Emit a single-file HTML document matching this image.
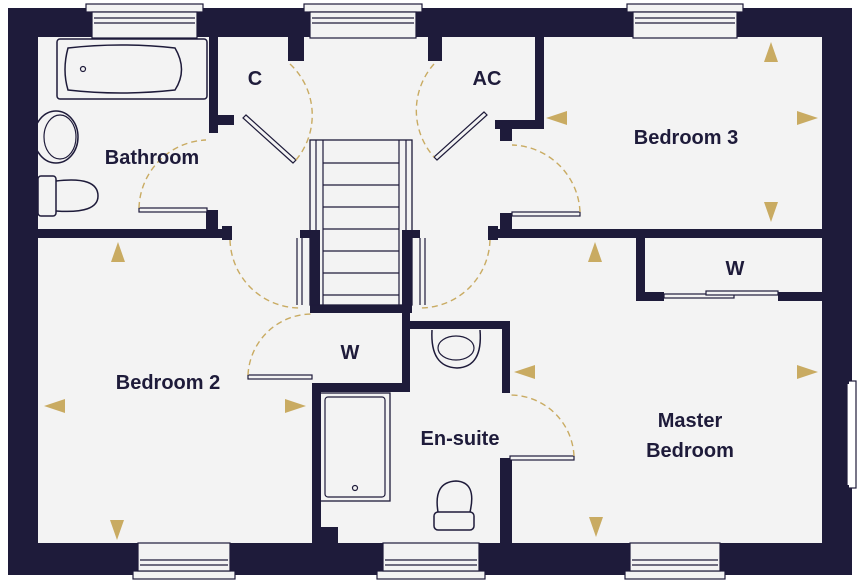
<!DOCTYPE html>
<html><head><meta charset="utf-8"><style>
html,body{margin:0;padding:0;background:#fff}
svg{display:block}
text{font-family:"Liberation Sans",sans-serif;font-weight:bold;fill:#1e1b3a;font-size:20px;text-anchor:middle}
</style></head><body>
<svg width="864" height="584" viewBox="0 0 864 584" xmlns="http://www.w3.org/2000/svg">
<rect x="0" y="0" width="864" height="584" fill="#fff"/>
<rect x="38" y="37" width="784" height="506" fill="#f3f3f3"/>
<g fill="#1e1b3a">
<rect x="8" y="8" width="844" height="29"/>
<rect x="8" y="8" width="30" height="567"/>
<rect x="822" y="8" width="30" height="567"/>
<rect x="8" y="543" width="844" height="32"/>
<rect x="38" y="229" width="184" height="9"/>
<rect x="209" y="37" width="9" height="96"/>
<rect x="218" y="115" width="16" height="10"/>
<rect x="206" y="210" width="12" height="19"/>
<rect x="222" y="226" width="10" height="14"/>
<rect x="288" y="37" width="16" height="24"/>
<rect x="428" y="37" width="14" height="24"/>
<rect x="535" y="37" width="9" height="92"/>
<rect x="495" y="120" width="49" height="9"/>
<rect x="500" y="129" width="12" height="12"/>
<rect x="492" y="229" width="330" height="9"/>
<rect x="500" y="213" width="12" height="16"/>
<rect x="488" y="226" width="10" height="14"/>
<rect x="636" y="237" width="9" height="63"/>
<rect x="636" y="292" width="28" height="9"/>
<rect x="778" y="292" width="44" height="9"/>
<rect x="300" y="230" width="20" height="8"/>
<rect x="310" y="238" width="10" height="75"/>
<rect x="402" y="230" width="18" height="8"/>
<rect x="402" y="238" width="10" height="75"/>
<rect x="310" y="305" width="102" height="8"/>
<rect x="402" y="305" width="8" height="87"/>
<rect x="312" y="383" width="98" height="9"/>
<rect x="312" y="383" width="9" height="160"/>
<rect x="312" y="527" width="26" height="16"/>
<rect x="402" y="321" width="108" height="8"/>
<rect x="502" y="321" width="8" height="72"/>
<rect x="500" y="458" width="12" height="85"/>
</g>
<g fill="#f3f3f3" stroke="#1e1b3a" stroke-width="1.2">
<rect x="86" y="4" width="117" height="8"/><rect x="92" y="12" width="105" height="26"/>
<rect x="304" y="4" width="118" height="8"/><rect x="310" y="12" width="106" height="26"/>
<rect x="627" y="4" width="116" height="8"/><rect x="633" y="12" width="104" height="26"/>
<rect x="133" y="571" width="102" height="8"/><rect x="138" y="543" width="92" height="28"/>
<rect x="377" y="571" width="108" height="8"/><rect x="383" y="543" width="96" height="28"/>
<rect x="625" y="571" width="100" height="8"/><rect x="630" y="543" width="90" height="28"/>
</g>
<rect x="847" y="381" width="9" height="107" fill="#fff" stroke="#1e1b3a" stroke-width="1.2"/>
<rect x="845" y="378" width="4" height="6" fill="#1e1b3a"/>
<rect x="845" y="485" width="4" height="6" fill="#1e1b3a"/>
<g stroke="#1e1b3a" stroke-width="1.2" fill="none">
<line x1="94" y1="18" x2="195" y2="18"/><line x1="94" y1="23" x2="195" y2="23"/>
<line x1="312" y1="18" x2="414" y2="18"/><line x1="312" y1="23" x2="414" y2="23"/>
<line x1="635" y1="18" x2="735" y2="18"/><line x1="635" y1="23" x2="735" y2="23"/>
<line x1="140" y1="560" x2="228" y2="560"/><line x1="140" y1="565" x2="228" y2="565"/>
<line x1="385" y1="560" x2="477" y2="560"/><line x1="385" y1="565" x2="477" y2="565"/>
<line x1="632" y1="560" x2="718" y2="560"/><line x1="632" y1="565" x2="718" y2="565"/>
<rect x="57" y="39" width="150" height="60" rx="3" stroke-width="1.5"/>
<path d="M68 48 Q120 42 175 48 Q188 70 175 90 Q120 96 68 90 Q62 70 68 48Z" stroke-width="1.5"/>
<circle cx="83" cy="69" r="2.5"/>
<ellipse cx="56" cy="137" rx="22" ry="26" stroke-width="1.5"/>
<ellipse cx="60" cy="137" rx="16" ry="22" stroke-width="1.2"/>
<rect x="38" y="176" width="18" height="40" rx="3" stroke-width="1.5"/>
<path d="M56 181 Q98 176 98 196 Q98 214 56 211" stroke-width="1.5"/>
<rect x="310" y="140" width="102" height="165" stroke-width="1.3"/>
<line x1="323" y1="140" x2="323" y2="305"/><line x1="399" y1="140" x2="399" y2="305"/>
<line x1="316" y1="140" x2="316" y2="230"/><line x1="406" y1="140" x2="406" y2="230"/>
<line x1="323" y1="163" x2="399" y2="163"/><line x1="323" y1="185" x2="399" y2="185"/>
<line x1="323" y1="207" x2="399" y2="207"/><line x1="323" y1="229" x2="399" y2="229"/>
<line x1="323" y1="251" x2="399" y2="251"/><line x1="323" y1="273" x2="399" y2="273"/>
<line x1="323" y1="295" x2="399" y2="295"/>
<line x1="297" y1="238" x2="297" y2="305"/><line x1="302" y1="238" x2="302" y2="305"/>
<line x1="420" y1="238" x2="420" y2="305"/><line x1="425" y1="238" x2="425" y2="305"/>
<path d="M246 115 L296 160 L293 163 L243 118Z" fill="#f3f3f3"/>
<path d="M487 115 L437 160 L434 157 L484 112Z" fill="#f3f3f3"/>
<rect x="139" y="208" width="68" height="4" fill="#f3f3f3"/>
<rect x="512" y="212" width="68" height="4" fill="#f3f3f3"/>
<rect x="248" y="375" width="64" height="4" fill="#f3f3f3"/>
<rect x="510" y="456" width="64" height="4" fill="#f3f3f3"/>
<rect x="664" y="294" width="70" height="4" fill="#f3f3f3"/>
<rect x="706" y="291" width="72" height="4" fill="#f3f3f3"/>
<rect x="320" y="393" width="70" height="108" stroke-width="1.3"/>
<rect x="325" y="397" width="60" height="100" rx="3"/>
<circle cx="355" cy="488" r="2.5"/>
<path d="M432 330 Q430 367 457 368 Q483 367 480 330" stroke-width="1.5"/>
<ellipse cx="456" cy="348" rx="18" ry="12"/>
<path d="M438 512 Q433 482 456 481 Q477 482 470 512" stroke-width="1.5"/>
<rect x="434" y="512" width="40" height="18" rx="4" stroke-width="1.5"/>
</g>
<g stroke="#c9ab62" stroke-width="1.4" fill="none" stroke-dasharray="6,4">
<path d="M290 64 A70 70 0 0 1 296 160"/>
<path d="M434 64 A70 70 0 0 0 434 157"/>
<path d="M139 208 A70 70 0 0 1 206 140"/>
<path d="M580 212 A70 70 0 0 0 512 145"/>
<path d="M230 240 A70 70 0 0 0 300 308"/>
<path d="M490 240 A70 70 0 0 1 420 308"/>
<path d="M248 375 A64 64 0 0 1 312 314"/>
<path d="M574 456 A64 64 0 0 0 510 395"/>
</g>
<g fill="#c9ab62">
<polygon points="771,42 764,62 778,62"/>
<polygon points="546,118 567,111 567,125"/>
<polygon points="818,118 797,111 797,125"/>
<polygon points="771,222 764,202 778,202"/>
<polygon points="118,242 111,262 125,262"/>
<polygon points="595,242 588,262 602,262"/>
<polygon points="44,406 65,399 65,413"/>
<polygon points="306,406 285,399 285,413"/>
<polygon points="514,372 535,365 535,379"/>
<polygon points="818,372 797,365 797,379"/>
<polygon points="117,540 110,520 124,520"/>
<polygon points="596,537 589,517 603,517"/>
</g>
<text x="255" y="85">C</text>
<text x="487" y="85">AC</text>
<text x="152" y="164">Bathroom</text>
<text x="686" y="144">Bedroom 3</text>
<text x="735" y="275">W</text>
<text x="168" y="389">Bedroom 2</text>
<text x="350" y="359">W</text>
<text x="460" y="445">En-suite</text>
<text x="690" y="427">Master</text>
<text x="690" y="457">Bedroom</text>
</svg>
</body></html>
